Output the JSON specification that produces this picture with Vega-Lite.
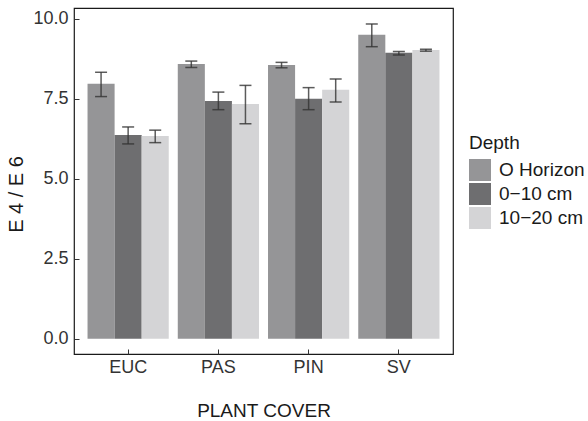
{
  "$schema": "https://vega.github.io/schema/vega-lite/v6.json",
  "width": 379,
  "height": 346,
  "autosize": {"type": "none"},
  "padding": {"left": 74, "top": 8, "right": 135, "bottom": 67},
  "background": "white",
  "config": {
    "font": "Liberation Sans",
    "view": {"stroke": "#1a1a1a", "strokeWidth": 1.2},
    "axis": {
      "grid": false,
      "domain": false,
      "ticks": true,
      "tickColor": "#333333",
      "tickSize": -5,
      "tickWidth": 1,
      "labelColor": "#333333",
      "labelFontSize": 18,
      "titleColor": "#1a1a1a",
      "titleFontSize": 19,
      "titleFontWeight": "normal"
    }
  },
  "data": {
    "values": [
      {"cover": "EUC", "depth": "O Horizon", "mean": 7.97, "lo": 7.57, "hi": 8.33},
      {"cover": "EUC", "depth": "0−10 cm", "mean": 6.37, "lo": 6.09, "hi": 6.62},
      {"cover": "EUC", "depth": "10−20 cm", "mean": 6.34, "lo": 6.13, "hi": 6.52},
      {"cover": "PAS", "depth": "O Horizon", "mean": 8.59, "lo": 8.48, "hi": 8.68},
      {"cover": "PAS", "depth": "0−10 cm", "mean": 7.43, "lo": 7.16, "hi": 7.71},
      {"cover": "PAS", "depth": "10−20 cm", "mean": 7.34, "lo": 6.72, "hi": 7.92},
      {"cover": "PIN", "depth": "O Horizon", "mean": 8.56, "lo": 8.47, "hi": 8.64},
      {"cover": "PIN", "depth": "0−10 cm", "mean": 7.5, "lo": 7.16, "hi": 7.85},
      {"cover": "PIN", "depth": "10−20 cm", "mean": 7.78, "lo": 7.4, "hi": 8.12},
      {"cover": "SV", "depth": "O Horizon", "mean": 9.5, "lo": 9.13, "hi": 9.84},
      {"cover": "SV", "depth": "0−10 cm", "mean": 8.94, "lo": 8.87, "hi": 8.98},
      {"cover": "SV", "depth": "10−20 cm", "mean": 9.03, "lo": 8.99, "hi": 9.05}
    ]
  },
  "encoding": {
    "x": {
      "field": "cover",
      "type": "nominal",
      "title": "PLANT COVER",
      "scale": {"paddingInner": 0.1, "paddingOuter": 0.15},
      "axis": {"labelAngle": 0, "labelPadding": 9, "titlePadding": 25}
    },
    "xOffset": {
      "field": "depth",
      "type": "nominal",
      "sort": ["O Horizon", "0−10 cm", "10−20 cm"],
      "scale": {"paddingInner": 0, "paddingOuter": 0}
    }
  },
  "layer": [
    {
      "mark": {"type": "bar"},
      "encoding": {
        "y": {
          "field": "mean",
          "type": "quantitative",
          "title": "E 4 / E 6",
          "scale": {"domain": [-0.48, 10.34], "nice": false, "zero": false},
          "axis": {"values": [0, 2.5, 5, 7.5, 10], "format": ".1f", "labelPadding": 11, "titlePadding": 6, "titleFontSize": 20, "titleY": 186}
        },
        "y2": {"datum": 0},
        "color": {
          "field": "depth",
          "type": "nominal",
          "sort": ["O Horizon", "0−10 cm", "10−20 cm"],
          "scale": {"domain": ["O Horizon", "0−10 cm", "10−20 cm"], "range": ["#959597", "#6e6e70", "#d4d4d6"]},
          "legend": {
            "title": "Depth",
            "orient": "none",
            "legendX": 395,
            "legendY": 126,
            "titleFontSize": 19,
            "titleFontWeight": "normal",
            "titleColor": "#1a1a1a",
            "titlePadding": 6,
            "labelFontSize": 19,
            "labelColor": "#1a1a1a",
            "labelOffset": 8,
            "symbolType": "square",
            "symbolSize": 484,
            "symbolStrokeWidth": 0,
            "rowPadding": 2
          }
        }
      }
    },
    {
      "mark": {"type": "rule", "color": "#333333", "opacity": 0.8, "strokeWidth": 1.5},
      "encoding": {
        "y": {"field": "lo", "type": "quantitative"},
        "y2": {"field": "hi"}
      }
    },
    {
      "mark": {"type": "tick", "color": "#333333", "opacity": 0.8, "thickness": 1.5, "size": 12, "orient": "horizontal"},
      "encoding": {
        "y": {"field": "lo", "type": "quantitative"}
      }
    },
    {
      "mark": {"type": "tick", "color": "#333333", "opacity": 0.8, "thickness": 1.5, "size": 12, "orient": "horizontal"},
      "encoding": {
        "y": {"field": "hi", "type": "quantitative"}
      }
    }
  ]
}
